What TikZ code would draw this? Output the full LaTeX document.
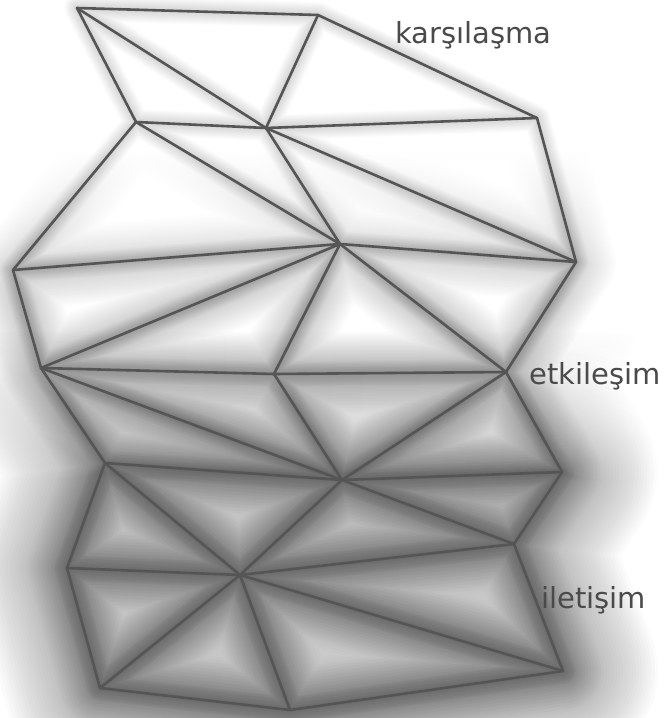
\documentclass[tikz,border=0pt]{standalone}
\usepackage{fontspec}
\setmainfont{DejaVu Sans}
\usetikzlibrary{fadings}
\definecolor{cizgi}{HTML}{555555}
\definecolor{yazi}{HTML}{4A4A4A}
% beyaz örtüler: üstte opak, aşağıda saydam
\pgfdeclareverticalshading{ortuorta}{100bp}{color(0bp)=(black); color(54.1bp)=(black);
  color(64.5bp)=(white); color(100bp)=(white)}
\pgfdeclareverticalshading{ortualt}{100bp}{color(0bp)=(black); color(41.6bp)=(black);
  color(52bp)=(white); color(100bp)=(white)}
\begin{tikzfadingfrompicture}[name=solukorta]
  \shade[shading=ortuorta] (-334pt,-359pt) rectangle (334pt,359pt);
\end{tikzfadingfrompicture}
\begin{tikzfadingfrompicture}[name=solukalt]
  \shade[shading=ortualt] (-334pt,-359pt) rectangle (334pt,359pt);
\end{tikzfadingfrompicture}

\begin{document}
\begin{tikzpicture}[
  x=1pt, y=-1pt,
  kenar/.style={draw=cizgi, line width=2.6pt, line cap=round, line join=round},
  etiket/.style={anchor=base west, inner sep=0pt, text=yazi,
                 font=\fontsize{29}{34}\selectfont},
  bulanik/.style={draw=black, line cap=round, line join=round},
  ortu/.style={white, fit fading=false, fading transform={shift={(334,359)}}},
]
\useasboundingbox (0,0) rectangle (668,718);
% ---- köşeler, yukarıdan aşağıya
\coordinate (k1) at (77,8);
\coordinate (k2) at (318,15);
\coordinate (k3) at (136,122);
\coordinate (k4) at (266,128);
\coordinate (k5) at (537,118);
\coordinate (k6) at (340,244);
\coordinate (k7) at (13,270);
\coordinate (k8) at (576,262);
\coordinate (k9) at (41,368);
\coordinate (k10) at (274,374);
\coordinate (k11) at (506,372);
\coordinate (k12) at (105,463);
\coordinate (k13) at (342,480);
\coordinate (k14) at (562,472);
\coordinate (k15) at (67,568);
\coordinate (k16) at (240,575);
\coordinate (k17) at (514,544);
\coordinate (k18) at (100,688);
\coordinate (k19) at (290,710);
\coordinate (k20) at (563,671);
\def\kenarlar{k1/k2, k1/k3, k1/k4, k2/k4, k2/k5, k3/k4, k4/k5, k3/k6, k4/k6,
  k4/k8, k5/k8, k3/k7, k7/k6, k6/k8, k7/k9, k6/k9, k6/k10, k6/k11, k8/k11,
  k9/k10, k10/k11, k9/k13, k10/k13, k11/k13, k11/k14, k9/k12, k12/k13,
  k13/k14, k12/k15, k12/k16, k13/k16, k13/k17, k14/k17, k15/k16, k16/k17,
  k15/k18, k16/k18, k16/k19, k16/k20, k17/k20, k18/k19, k19/k20}
% ---- geniş gölge, yalnız altta
\foreach \k in {1,...,30}
  \draw[bulanik, opacity=0.016, line width=190*\k/30]
    \foreach \u/\w in \kenarlar {(\u) -- (\w)};
\fill[ortu, path fading=solukalt] (0,0) rectangle (668,718);
% ---- orta gölge, ortada ve altta
\foreach \k in {1,...,20}
  \draw[bulanik, opacity=0.013, line width=80*\k/20]
    \foreach \u/\w in \kenarlar {(\u) -- (\w)};
\fill[ortu, path fading=solukorta] (0,0) rectangle (668,718);
% ---- dar gölge, her yerde
\begin{scope}[shift={(1,3)}]
\foreach \k in {1,...,14}
  \draw[bulanik, opacity=0.013, line width=26*\k/14]
    \foreach \u/\w in \kenarlar {(\u) -- (\w)};
\end{scope}
% ---- çizgiler
\foreach \u/\w in \kenarlar
  \draw[kenar] (\u) -- (\w);
% ---- etiketler
\node[etiket] (karsilasma) at (395,43) {karşılaşma};
\node[etiket] (etkilesim) at (529,384) {etkileşim};
\node[etiket] (iletisim) at (541,608) {iletişim};
\end{tikzpicture}
\end{document}
